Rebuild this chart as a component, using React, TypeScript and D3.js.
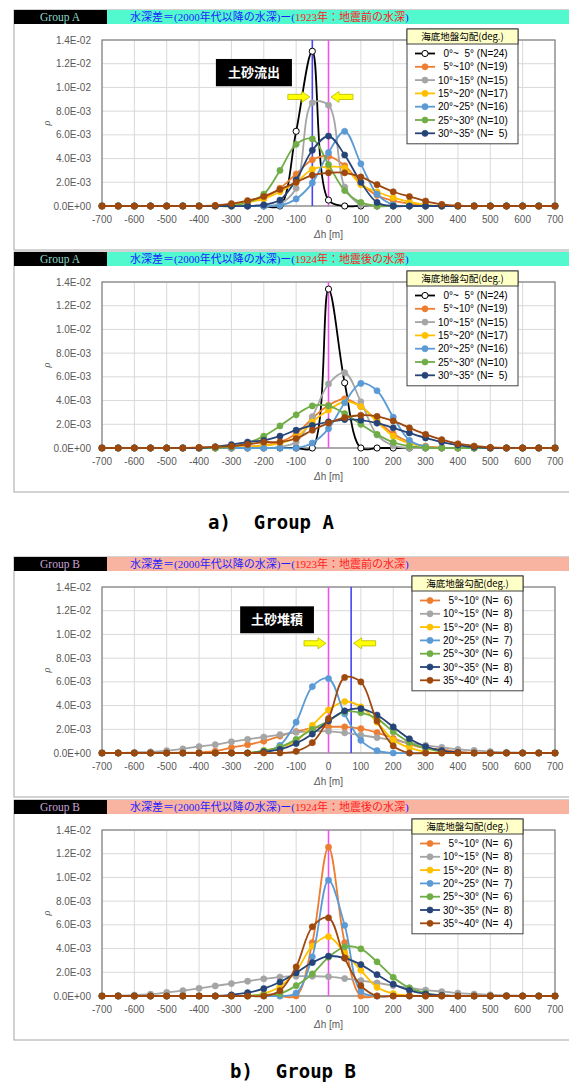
import React from 'react';
import * as d3 from 'd3';

// Δh classes (m)
const DH = [-700, -650, -600, -550, -500, -450, -400, -350, -300, -250, -200, -150, -100, -50, 0, 50, 100, 150, 200, 250, 300, 350, 400, 450, 500, 550, 600, 650, 700];
const X_TICKS = [-700, -600, -500, -400, -300, -200, -100, 0, 100, 200, 300, 400, 500, 600, 700];
// values are in units of 1E-03
const Y_TICKS = [0, 2, 4, 6, 8, 10, 12, 14];
const Y_TICK_LABELS = ['0.0E+00', '2.0E-03', '4.0E-03', '6.0E-03', '8.0E-03', '1.0E-02', '1.2E-02', '1.4E-02'];

// ---- Group A : 2000s - 1923 ----
const A23_00_05 = [0, 0, 0, 0, 0, 0, 0, 0, 0, 0, 0, 0, 6.3, 13.05, 0.5, 0, 0, 0, 0, 0, 0, 0, 0, 0, 0, 0, 0, 0, 0];
const A23_05_10 = [0, 0, 0, 0, 0, 0, 0, 0, 0.1, 0.35, 0.7, 1.5, 2.7, 3.9, 4.2, 3.4, 1.9, 0.9, 0.45, 0.2, 0.05, 0, 0, 0, 0, 0, 0, 0, 0];
const A23_10_15 = [0, 0, 0, 0, 0, 0, 0, 0, 0, 0, 0, 0.2, 1.5, 8.7, 8.5, 1.6, 0.1, 0, 0, 0, 0, 0, 0, 0, 0, 0, 0, 0, 0];
const A23_15_20 = [0, 0, 0, 0, 0, 0, 0, 0, 0, 0.3, 0.6, 1.2, 2.0, 3.1, 3.3, 3.2, 1.8, 1.2, 0.7, 0.35, 0.1, 0, 0, 0, 0, 0, 0, 0, 0];
const A23_20_25 = [0, 0, 0, 0, 0, 0, 0, 0, 0, 0, 0, 0.05, 0.6, 1.95, 4.5, 6.3, 3.56, 1.0, 0.1, 0, 0, 0, 0, 0, 0, 0, 0, 0, 0];
const A23_25_30 = [0, 0, 0, 0, 0, 0, 0, 0, 0, 0.3, 1.0, 3.0, 5.2, 5.66, 3.5, 1.3, 0.3, 0, 0, 0, 0, 0, 0, 0, 0, 0, 0, 0, 0];
const A23_30_35 = [0, 0, 0, 0, 0, 0, 0, 0, 0, 0, 0.1, 0.5, 2.2, 4.7, 5.9, 4.3, 2.0, 0.3, 0, 0, 0, 0, 0, 0, 0, 0, 0, 0, 0];
const A23_35_40 = [0, 0, 0, 0, 0, 0, 0, 0.05, 0.2, 0.45, 0.8, 1.4, 2.0, 2.6, 2.8, 2.8, 2.45, 1.8, 1.2, 0.8, 0.42, 0.14, 0.03, 0, 0, 0, 0, 0, 0];

// ---- Group A : 2000s - 1924 ----
const A24_00_05 = [0, 0, 0, 0, 0, 0, 0, 0, 0, 0, 0, 0, 0, 0, 13.4, 5.5, 0, 0, 0, 0, 0, 0, 0, 0, 0, 0, 0, 0, 0];
const A24_05_10 = [0, 0, 0, 0, 0, 0, 0, 0, 0, 0.1, 0.25, 0.5, 1.2, 2.5, 3.6, 4.15, 3.5, 2.3, 1.2, 0.5, 0.15, 0.03, 0, 0, 0, 0, 0, 0, 0];
const A24_10_15 = [0, 0, 0, 0, 0, 0, 0, 0, 0, 0, 0, 0.1, 0.5, 2.64, 5.4, 6.35, 3.9, 1.1, 0.2, 0, 0, 0, 0, 0, 0, 0, 0, 0, 0];
const A24_15_20 = [0, 0, 0, 0, 0, 0, 0, 0, 0, 0.1, 0.2, 0.4, 0.9, 2.2, 3.2, 3.9, 3.5, 2.2, 1.0, 0.4, 0.1, 0, 0, 0, 0, 0, 0, 0, 0];
const A24_20_25 = [0, 0, 0, 0, 0, 0, 0, 0, 0, 0, 0, 0, 0, 0.42, 1.63, 3.82, 5.45, 4.83, 2.6, 0.65, 0.1, 0, 0, 0, 0, 0, 0, 0, 0];
const A24_25_30 = [0, 0, 0, 0, 0, 0, 0, 0, 0.1, 0.42, 1.0, 1.86, 2.8, 3.55, 3.55, 2.9, 2.0, 1.15, 0.48, 0.15, 0.02, 0, 0, 0, 0, 0, 0, 0, 0];
const A24_30_35 = [0, 0, 0, 0, 0, 0, 0, 0.1, 0.28, 0.5, 0.65, 1.0, 1.5, 1.9, 2.2, 2.4, 2.35, 2.1, 1.7, 1.27, 0.85, 0.5, 0.25, 0.08, 0, 0, 0, 0, 0];
const A24_35_40 = [0, 0, 0, 0, 0, 0, 0.05, 0.1, 0.15, 0.3, 0.5, 0.5, 0.8, 1.5, 2.1, 2.56, 2.76, 2.67, 2.28, 1.7, 1.15, 0.7, 0.36, 0.17, 0.05, 0, 0, 0, 0];

// ---- Group B : 2000s - 1923 ----
const B23_05_10 = [0, 0, 0, 0, 0, 0.02, 0.05, 0.15, 0.45, 0.7, 1.0, 1.43, 1.8, 2.1, 2.2, 2.2, 2.05, 1.72, 1.24, 0.75, 0.4, 0.3, 0.1, 0.02, 0, 0, 0, 0, 0];
const B23_10_15 = [0, 0, 0.05, 0.1, 0.2, 0.35, 0.55, 0.7, 0.95, 1.15, 1.35, 1.55, 1.75, 1.85, 1.83, 1.7, 1.5, 1.3, 1.07, 0.87, 0.65, 0.48, 0.3, 0.22, 0.12, 0.06, 0.02, 0, 0];
const B23_15_20 = [0, 0, 0, 0, 0, 0, 0, 0, 0, 0, 0.2, 0.5, 1.0, 2.34, 3.63, 4.34, 3.9, 2.6, 1.1, 0.45, 0.1, 0, 0, 0, 0, 0, 0, 0, 0];
const B23_20_25 = [0, 0, 0, 0, 0, 0, 0, 0, 0, 0, 0.1, 0.65, 2.6, 5.6, 6.28, 3.3, 1.07, 0.2, 0, 0, 0, 0, 0, 0, 0, 0, 0, 0, 0];
const B23_25_30 = [0, 0, 0, 0, 0, 0, 0, 0, 0, 0, 0.2, 0.5, 1.15, 2.0, 2.7, 3.5, 3.4, 2.9, 1.8, 0.9, 0.4, 0.1, 0, 0, 0, 0, 0, 0, 0];
const B23_30_35 = [0, 0, 0, 0, 0, 0, 0, 0, 0, 0, 0.1, 0.3, 0.8, 1.6, 2.7, 3.55, 3.75, 3.2, 2.2, 1.2, 0.55, 0.2, 0.05, 0, 0, 0, 0, 0, 0];
const B23_35_40 = [0, 0, 0, 0, 0, 0, 0, 0, 0, 0, 0, 0, 0.14, 0.87, 2.9, 6.37, 6.0, 2.7, 0.6, 0, 0, 0, 0, 0, 0, 0, 0, 0, 0];

// ---- Group B : 2000s - 1924 ----
const B24_05_10 = [0, 0, 0, 0, 0, 0, 0, 0, 0, 0, 0, 0, 0, 4.5, 12.55, 4.5, 0, 0, 0, 0, 0, 0, 0, 0, 0, 0, 0, 0, 0];
const B24_10_15 = [0, 0.03, 0.08, 0.15, 0.3, 0.45, 0.65, 0.85, 1.05, 1.25, 1.45, 1.6, 1.67, 1.67, 1.63, 1.47, 1.3, 1.1, 0.88, 0.68, 0.5, 0.37, 0.25, 0.17, 0.1, 0.05, 0.02, 0, 0];
const B24_15_20 = [0, 0, 0, 0, 0, 0, 0, 0, 0, 0, 0.2, 0.8, 2.1, 4.2, 5.0, 3.64, 2.17, 0.73, 0.2, 0.05, 0, 0, 0, 0, 0, 0, 0, 0, 0];
const B24_20_25 = [0, 0, 0, 0, 0, 0, 0, 0, 0, 0, 0, 0, 0.25, 3.3, 9.77, 5.96, 0.4, 0, 0, 0, 0, 0, 0, 0, 0, 0, 0, 0, 0];
const B24_25_30 = [0, 0, 0, 0, 0, 0, 0, 0, 0, 0, 0.1, 0.2, 0.87, 1.86, 3.27, 4.15, 3.98, 2.88, 1.58, 0.68, 0.25, 0.05, 0, 0, 0, 0, 0, 0, 0];
const B24_30_35 = [0, 0, 0, 0, 0, 0, 0, 0, 0.1, 0.28, 0.62, 1.18, 1.95, 2.82, 3.36, 3.2, 2.65, 1.8, 1.0, 0.48, 0.17, 0.05, 0, 0, 0, 0, 0, 0, 0];
const B24_35_40 = [0, 0, 0, 0, 0, 0, 0, 0, 0, 0, 0, 0.45, 2.45, 5.84, 6.6, 3.2, 0.87, 0, 0, 0, 0, 0, 0, 0, 0, 0, 0, 0, 0];

const LABELS_A = ['  0°~  5° (N=24)', '  5°~10° (N=19)', '10°~15° (N=15)', '15°~20° (N=17)', '20°~25° (N=16)', '25°~30° (N=10)', '30°~35° (N=  5)'];
const LABELS_B = ['  5°~10° (N=  6)', '10°~15° (N=  8)', '15°~20° (N=  8)', '20°~25° (N=  7)', '25°~30° (N=  6)', '30°~35° (N=  8)', '35°~40° (N=  4)'];

const C = {
  black: '#000000', orange: '#ed7d31', gray: '#a5a5a5', yellow: '#ffc000',
  blue: '#5b9bd5', green: '#70ad47', navy: '#264478', brown: '#9e480e'
};

const PANELS = [
  {
    top: 10, group: 'Group A', bar: '#52f9cf', gcol: '#8fd9c9', state: '1923年：地震前の水深',
    series: [
      { c: C.black, open: true, v: A23_00_05 }, { c: C.orange, v: A23_05_10 }, { c: C.gray, v: A23_10_15 },
      { c: C.yellow, v: A23_15_20 }, { c: C.blue, v: A23_20_25 }, { c: C.green, v: A23_25_30 },
      { c: C.navy, v: A23_30_35 }, { c: C.brown, v: A23_35_40 }
    ],
    labels: LABELS_A, legX: 407,
    refs: [{ v: -50, c: '#4646f2' }, { v: 0, c: '#f050f0' }],
    note: { text: '土砂流出', x0: -348, x1: -113, y0: 10.1, y1: 12.4 },
    arrows: [{ tip: -50, dir: 1, y: 9.2 }, { tip: 0, dir: -1, y: 9.2 }]
  },
  {
    top: 252, group: 'Group A', bar: '#52f9cf', gcol: '#8fd9c9', state: '1924年：地震後の水深',
    series: [
      { c: C.black, open: true, v: A24_00_05 }, { c: C.orange, v: A24_05_10 }, { c: C.gray, v: A24_10_15 },
      { c: C.yellow, v: A24_15_20 }, { c: C.blue, v: A24_20_25 }, { c: C.green, v: A24_25_30 },
      { c: C.navy, v: A24_30_35 }, { c: C.brown, v: A24_35_40 }
    ],
    labels: LABELS_A, legX: 407,
    refs: [{ v: 0, c: '#f050f0' }],
    note: null, arrows: []
  },
  {
    top: 557, group: 'Group B', bar: '#f9b3a1', gcol: '#c9a3d6', state: '1923年：地震前の水深',
    series: [
      { c: C.orange, v: B23_05_10 }, { c: C.gray, v: B23_10_15 }, { c: C.yellow, v: B23_15_20 },
      { c: C.blue, v: B23_20_25 }, { c: C.green, v: B23_25_30 }, { c: C.navy, v: B23_30_35 },
      { c: C.brown, v: B23_35_40 }
    ],
    labels: LABELS_B, legX: 412,
    refs: [{ v: 0, c: '#f050f0' }, { v: 70, c: '#4646f2' }],
    note: { text: '土砂堆積', x0: -273, x1: -45, y0: 10.1, y1: 12.37 },
    arrows: [{ tip: 0, dir: 1, y: 9.25 }, { tip: 70, dir: -1, y: 9.25 }]
  },
  {
    top: 800, group: 'Group B', bar: '#f9b3a1', gcol: '#c9a3d6', state: '1924年：地震後の水深',
    series: [
      { c: C.orange, v: B24_05_10 }, { c: C.gray, v: B24_10_15 }, { c: C.yellow, v: B24_15_20 },
      { c: C.blue, v: B24_20_25 }, { c: C.green, v: B24_25_30 }, { c: C.navy, v: B24_30_35 },
      { c: C.brown, v: B24_35_40 }
    ],
    labels: LABELS_B, legX: 412,
    refs: [{ v: 0, c: '#f050f0' }],
    note: null, arrows: []
  }
];

const SANS = "'Liberation Sans', Arial, 'Noto Sans CJK JP', sans-serif";
const CJK = "'Noto Sans CJK JP', sans-serif";
const SERIF = "'Liberation Serif', 'Noto Sans CJK JP', serif";

function Panel({ p }: { p: any }) {
  const T = p.top;
  const x = d3.scaleLinear().domain([-700, 700]).range([102, 555]);
  const y = d3.scaleLinear().domain([0, 14]).range([T + 196, T + 30]);
  const line = d3.line<number>()
    .x((d, i) => x(DH[i]))
    .y(d => y(d))
    .curve(d3.curveCatmullRom.alpha(0.5));

  const legTop = T + 19;
  const rowH = 13.3;
  const legW = 111;
  const legH = 15 + 10 + rowH * (p.labels.length - 1) + 10;

  const arrowPath = (a: any) => {
    const tx = x(a.tip) - a.dir * 2.5;
    const cy = y(a.y);
    const L = 22, hl = 8, hh = 5.5, sh = 2.6;
    const d = a.dir;
    return `M${tx},${cy} L${tx - d * hl},${cy - hh} L${tx - d * hl},${cy - sh} L${tx - d * L},${cy - sh} L${tx - d * L},${cy + sh} L${tx - d * hl},${cy + sh} L${tx - d * hl},${cy + hh} Z`;
  };

  return (
    <g>
      <rect x={14} y={T} width={570} height={240} fill="#fff" stroke="#a6a6a6" />
      <rect x={14} y={T} width={93} height={14} fill="#000" />
      <rect x={107} y={T} width={470} height={14} fill={p.bar} />
      <text x={60} y={T + 11} textAnchor="middle" fontFamily={SERIF} fontSize={11.5} fill={p.gcol}>{p.group}</text>
      <text x={130} y={T + 11} fontFamily={SERIF} fontSize={11} fill="#1f1fff">
        水深差＝(2000年代以降の水深)ー(<tspan fill="#ff2020">{p.state}</tspan>)
      </text>

      {/* grid */}
      {X_TICKS.map(t => (
        <line key={'gx' + t} x1={x(t)} x2={x(t)} y1={y(0)} y2={y(14)} stroke="#d9d9d9" strokeWidth={1} />
      ))}
      {Y_TICKS.map(t => (
        <line key={'gy' + t} x1={x(-700)} x2={x(700)} y1={y(t)} y2={y(t)} stroke="#d9d9d9" strokeWidth={1} />
      ))}
      <rect x={x(-700)} y={y(14)} width={x(700) - x(-700)} height={y(0) - y(14)} fill="none" stroke="#808080" strokeWidth={1.2} />

      {/* ticks */}
      {Y_TICKS.map((t, i) => (
        <text key={'ty' + t} x={91} y={y(t) + 3.5} textAnchor="end" fontFamily={SANS} fontSize={10} fill="#595959">{Y_TICK_LABELS[i]}</text>
      ))}
      {X_TICKS.map(t => (
        <text key={'tx' + t} x={x(t)} y={T + 213} textAnchor="middle" fontFamily={SANS} fontSize={10} fill="#595959">{t}</text>
      ))}
      <text x={x(0)} y={T + 228} textAnchor="middle" fontFamily={SANS} fontSize={10} fill="#595959">
        <tspan fontStyle="italic">Δ</tspan>h [m]
      </text>
      <text transform={`translate(50,${y(7)}) rotate(-90)`} textAnchor="middle" fontFamily={SERIF} fontStyle="italic" fontSize={10} fill="#595959">ρ</text>

      {/* reference lines */}
      {p.refs.map((r: any, i: number) => (
        <line key={'r' + i} x1={x(r.v)} x2={x(r.v)} y1={y(14)} y2={y(0)} stroke={r.c} strokeWidth={1.6} />
      ))}

      {/* series */}
      {p.series.map((s: any, si: number) => (
        <g key={'s' + si}>
          <path d={line(s.v) || ''} fill="none" stroke={s.c} strokeWidth={1.8} />
          {s.v.map((v: number, i: number) => (
            <circle key={i} cx={x(DH[i])} cy={y(v)} r={3.1}
              fill={s.open ? '#fff' : s.c} stroke={s.c} strokeWidth={s.open ? 1 : 0.6} />
          ))}
        </g>
      ))}

      {/* annotation */}
      {p.note && (
        <g>
          <rect x={x(p.note.x0)} y={y(p.note.y1)} width={x(p.note.x1) - x(p.note.x0)} height={y(p.note.y0) - y(p.note.y1)} fill="#000" />
          <text x={(x(p.note.x0) + x(p.note.x1)) / 2} y={(y(p.note.y0) + y(p.note.y1)) / 2 + 4.5} textAnchor="middle"
            fontFamily={CJK} fontWeight="bold" fontSize={13} fill="#fff">{p.note.text}</text>
        </g>
      )}
      {p.arrows.map((a: any, i: number) => (
        <path key={'a' + i} d={arrowPath(a)} fill="#ffff00" stroke="#b8b800" strokeWidth={0.8} />
      ))}

      {/* legend */}
      <rect x={p.legX} y={legTop} width={legW} height={legH} fill="#fff" stroke="#404040" strokeWidth={1} />
      <rect x={p.legX} y={legTop} width={legW} height={15} fill="#ffffc8" stroke="#404040" strokeWidth={1} />
      <text x={p.legX + legW / 2} y={legTop + 11} textAnchor="middle" fontFamily={CJK} fontSize={9.5} fill="#000">海底地盤勾配(deg.)</text>
      {p.labels.map((lab: string, i: number) => {
        const s = p.series[i];
        const ly = legTop + 15 + 9.5 + i * rowH;
        const lx = p.legX + 8;
        return (
          <g key={'l' + i}>
            <line x1={lx} x2={lx + 20} y1={ly} y2={ly} stroke={s.c} strokeWidth={1.8} />
            <circle cx={lx + 10} cy={ly} r={3.1} fill={s.open ? '#fff' : s.c} stroke={s.c} strokeWidth={s.open ? 1 : 0.6} />
            <text x={lx + 23} y={ly + 3.6} fontFamily={SANS} fontSize={10} fill="#000" style={{ whiteSpace: 'pre' }}>{lab}</text>
          </g>
        );
      })}
    </g>
  );
}

export default function App() {
  return (
    <div style={{ position: 'absolute', left: 0, top: 0 }}>
      <svg width={569} height={1084} style={{ display: 'block', background: '#fff' }}>
        {PANELS.map((p, i) => <Panel key={i} p={p} />)}
        <text x={271} y={529} textAnchor="middle" fontFamily="'DejaVu Sans Mono', monospace" fontWeight="bold" fontSize={19} fill="#000" style={{ whiteSpace: 'pre' }}>a)  Group A</text>
        <text x={293} y={1078} textAnchor="middle" fontFamily="'DejaVu Sans Mono', monospace" fontWeight="bold" fontSize={19} fill="#000" style={{ whiteSpace: 'pre' }}>b)  Group B</text>
      </svg>
    </div>
  );
}
